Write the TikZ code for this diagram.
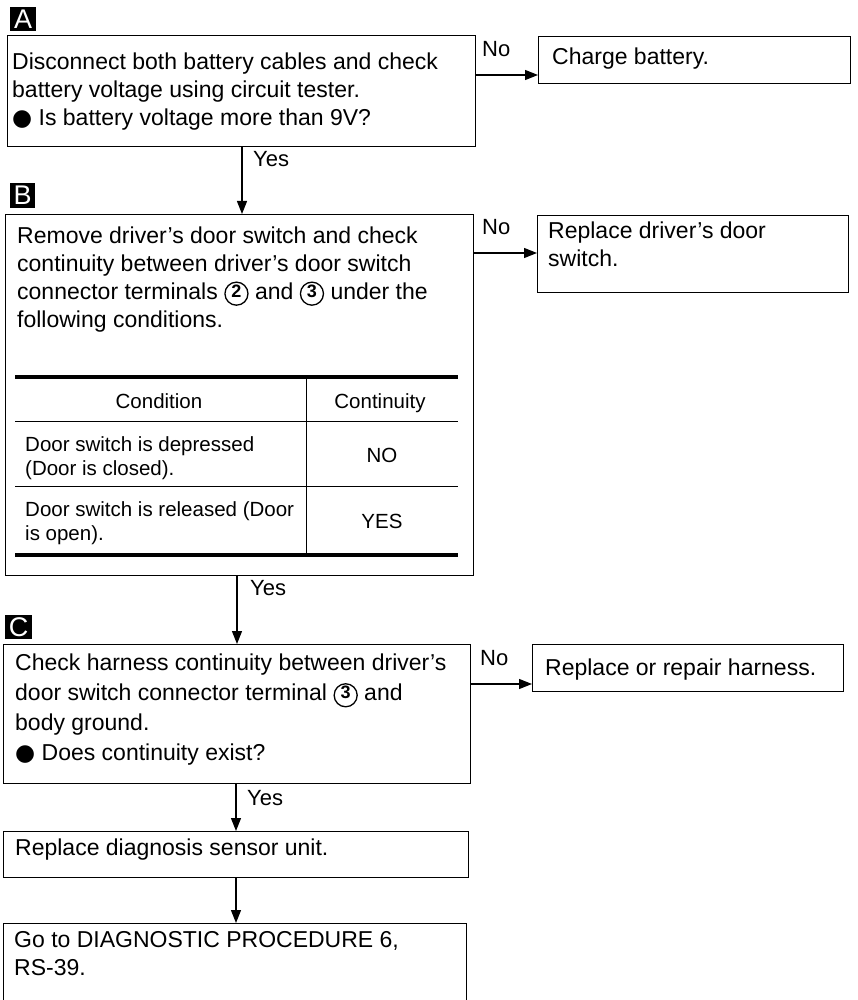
\documentclass[tikz,border=0pt]{standalone}
\usepackage{fontspec}
\setmainfont{Liberation Sans}
\newfontfamily\symfont{DejaVu Sans}
\usetikzlibrary{arrows.meta,positioning,calc}
\newcommand{\blt}{{\symfont ●}}
\newcommand{\cnum}[1]{\tikz[baseline={([yshift=-2pt]cn.base)}]\node[draw,circle,line width=1.3pt,
  inner sep=0.9pt,font=\fontsize{18}{18}\selectfont\bfseries] (cn) {#1};}

\begin{document}
\begin{tikzpicture}[x=1pt,y=-1pt,
  frame/.style={draw,line width=1.4pt,anchor=north west,inner sep=0pt},
  txt/.style={anchor=north west,inner sep=0pt,align=left,
    font=\fontsize{23}{28}\selectfont,execute at begin node=\strut},
  cell/.style={anchor=north west,inner sep=0pt,align=left,
    font=\fontsize{20.5}{24}\selectfont,execute at begin node=\strut},
  head/.style={anchor=base,inner sep=0pt,font=\fontsize{20.5}{24}\selectfont},
  tag/.style={fill=black,text=white,anchor=north west,inner sep=0pt,
    font=\fontsize{27}{27}\selectfont},
  lbl/.style={anchor=base west,inner sep=0pt,font=\fontsize{22}{26}\selectfont},
  rule/.style={line width=3.5pt},
  arrow/.style={-{Triangle[length=13pt,width=10pt]},line width=1.3pt}]
  \useasboundingbox (0,0) rectangle (858,1000);
  \fill[white] (0,0) rectangle (858,1000);
  \clip (0,0) rectangle (858,1000);

  \node[tag,minimum width=26pt,minimum height=24pt] (tA) at (10,7) {A};
  \node[frame,minimum width=468pt,minimum height=111pt] (a) at (7,35) {};
  \node[txt] (ta) at (12,52.7) {Disconnect both battery cables and check\\
    battery voltage using circuit tester.\\
    \blt\ Is battery voltage more than 9V?};
  \node[frame,minimum width=312pt,minimum height=47pt] (charge) at (538,36) {};
  \node[txt] (tcharge) at (552,45) {Charge battery.};

  \node[tag,minimum width=25pt,minimum height=25pt] (tB) at (10,183) {B};
  \node[frame,minimum width=468pt,minimum height=361pt] (b) at (5,214) {};
  \node[txt] (tb) at (17,226.4) {Remove driver's door switch and check\\
    continuity between driver's door switch\\
    connector terminals \cnum{2} and \cnum{3} under the\\
    following conditions.};
  \node[frame,minimum width=311pt,minimum height=77pt] (door) at (537,215) {};
  \node[txt] (tdoor) at (548,221.7) {Replace driver's door\\switch.};

  \draw[rule] (15,377) -- (458,377);
  \draw[line width=1pt] (15,421) -- (458,421);
  \draw[line width=1pt] (15,486) -- (458,486);
  \draw[rule] (15,555) -- (458,555);
  \draw[line width=1pt] (306,377) -- (306,555);
  \node[head] (hcond) at (159,408.5) {Condition};
  \node[head] (hcont) at (380,408.5) {Continuity};
  \node[cell] (c1) at (25,436.2) {Door switch is depressed\\(Door is closed).};
  \node[head] (v1) at (382,462) {NO};
  \node[cell] (c2) at (25,501.2) {Door switch is released (Door\\is open).};
  \node[head] (v2) at (382,528) {YES};

  \node[tag,minimum width=27pt,minimum height=24pt] (tC) at (5,615) {C};
  \node[frame,minimum width=467pt,minimum height=139pt] (c) at (3,644) {};
  \node[txt,font=\fontsize{23}{30}\selectfont] (tc) at (15,654)
    {Check harness continuity between driver's\\
    door switch connector terminal \cnum{3} and\\
    body ground.\\
    \blt\ Does continuity exist?};
  \node[frame,minimum width=311pt,minimum height=47pt] (harness) at (532,644) {};
  \node[txt] (tharness) at (545,655.7) {Replace or repair harness.};

  \node[frame,minimum width=465pt,minimum height=46pt] (d) at (3,831) {};
  \node[txt] (td) at (15,835.4) {Replace diagnosis sensor unit.};
  \node[frame,minimum width=463pt,minimum height=95pt] (e) at (3,923) {};
  \node[txt] (te) at (14,931) {Go to DIAGNOSTIC PROCEDURE 6,\\RS-39.};

  \coordinate (na) at (0,75);
  \coordinate (nb) at (0,253);
  \coordinate (nc) at (0,684);
  \coordinate (ya) at (242,0);
  \coordinate (yb) at (237,0);
  \coordinate (yc) at (236,0);
  \draw[arrow] (a.east |- na) -- (charge.west |- na);
  \draw[arrow] (b.east |- nb) -- (door.west |- nb);
  \draw[arrow] (c.east |- nc) -- (harness.west |- nc);
  \draw[arrow] (ya |- a.south) -- (ya |- b.north);
  \draw[arrow] (yb |- b.south) -- (yb |- c.north);
  \draw[arrow] (yc |- c.south) -- (yc |- d.north);
  \draw[arrow] (yc |- d.south) -- (yc |- e.north);
  \node[lbl] (noa) at (482,56.7) {No};
  \node[lbl] (nob) at (482,235) {No};
  \node[lbl] (noc) at (480,665) {No};
  \node[lbl] (yesa) at (253,166.7) {Yes};
  \node[lbl] (yesb) at (250,595) {Yes};
  \node[lbl] (yesc) at (247,805) {Yes};
\end{tikzpicture}
\end{document}
